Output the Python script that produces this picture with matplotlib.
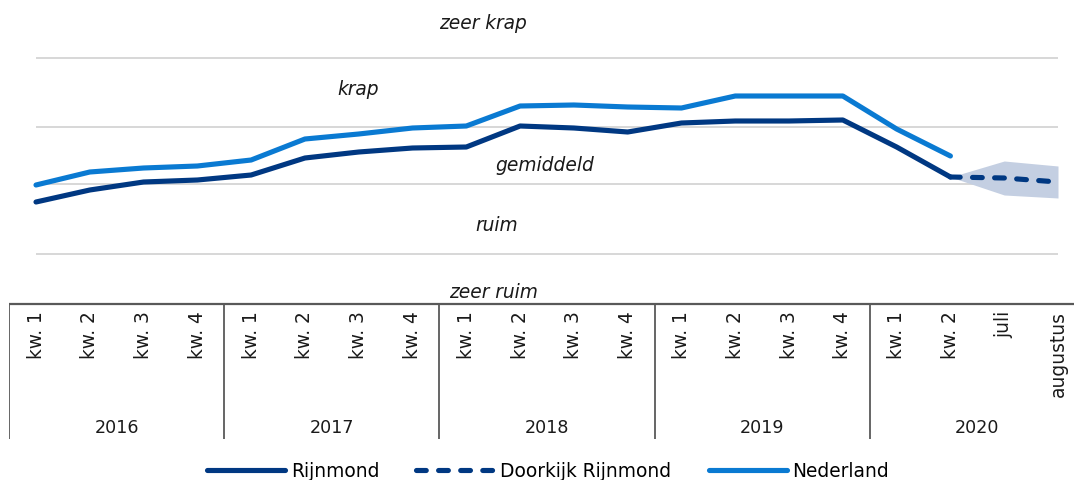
import matplotlib
matplotlib.use("Agg")
import matplotlib.pyplot as plt
import numpy as np

# ── Data ──────────────────────────────────────────────────────────────────────
periods = ["kw. 1", "kw. 2", "kw. 3", "kw. 4"] * 4 + ["kw. 1", "kw. 2", "juli", "augustus"]
years = ["2016", "2017", "2018", "2019", "2020"]
year_size = [4, 4, 4, 4, 4]

rijnmond = [1.01, 1.13, 1.21, 1.23, 1.28, 1.45, 1.51, 1.55, 1.56, 1.77,
            1.75, 1.71, 1.80, 1.82, 1.82, 1.83, 1.56, 1.26, None, None]
doorkijk = [None] * 17 + [1.26, 1.25, 1.21]
band_hi = [None] * 17 + [1.26, 1.42, 1.37]
band_lo = [None] * 17 + [1.26, 1.08, 1.05]
nederland = [1.18, 1.31, 1.35, 1.37, 1.43, 1.64, 1.69, 1.75, 1.77, 1.97,
             1.98, 1.96, 1.95, 2.07, 2.07, 2.07, 1.74, 1.47, None, None]

# class boundaries (grid lines) and band labels
bounds = [0.49, 1.19, 1.76, 2.45]
band_names = ["zeer krap", "krap", "gemiddeld", "ruim", "zeer ruim"]

# ── Style ─────────────────────────────────────────────────────────────────────
C_DARK = "#003882"
C_LIGHT = "#0a7ad2"
C_BAND = "#c4cfe2"
C_GRID = "#d4d4d4"
C_AX = "#595959"
FS = 13.4      # text
FS_YR = 12.6   # year labels (digits)
plt.rcParams["font.family"] = ["DejaVu Sans"]

W, H = 1074, 481
fig = plt.figure(figsize=(W / 100, H / 100), dpi=100, facecolor="white")

n = len(periods)
x = np.arange(n)
step = 1022 / (n - 1)
left_px = 36 - step / 2
ax_w = step * n
ax = fig.add_axes([left_px / W, 1 - 304 / H, ax_w / W, 304 / H])
ax.set_xlim(-0.5, n - 0.5)
ax.set_ylim(0, 3.04)
ax.axis("off")

ax.hlines(bounds, 0, n - 1, color=C_GRID, lw=1.3, zorder=1)


def arr(v):
    return np.array([np.nan if a is None else a for a in v], dtype=float)


lo, hi = arr(band_lo), arr(band_hi)
ok = ~np.isnan(lo)
ax.fill_between(x[ok], lo[ok], hi[ok], color=C_BAND, lw=0, zorder=2)

lw = 3.7
l1, = ax.plot(x, arr(rijnmond), color=C_DARK, lw=lw, solid_capstyle="round",
              solid_joinstyle="round", zorder=4, label="Rijnmond")
l2, = ax.plot(x, arr(doorkijk), color=C_DARK, lw=lw, dashes=(1.9, 2.4),
              dash_capstyle="round", zorder=4, label="Doorkijk Rijnmond")
l3, = ax.plot(x, arr(nederland), color=C_LIGHT, lw=lw, solid_capstyle="round",
              solid_joinstyle="round", zorder=3, label="Nederland")

# band labels
label_pos = [(8.31, 2.80), (5.99, 2.14), (9.46, 1.38), (8.57, 0.78), (8.51, 0.12)]
for name, (lx, ly) in zip(band_names, label_pos):
    ax.text(lx, ly, name, fontsize=FS, style="italic", ha="center", va="center",
            color="#1a1a1a", zorder=5)

# ── Multi-level category axis ─────────────────────────────────────────────────
ax2 = fig.add_axes([left_px / W, 0, ax_w / W, (H - 304) / H])
ax2.set_xlim(-0.5, n - 0.5)
ax2.set_ylim(H, 304)
ax2.axis("off")

ax2.hlines(305, -0.5, n - 0.5, color=C_AX, lw=1.6, clip_on=False)
for i, p in enumerate(periods):
    ax2.text(i, 311, p, rotation=90, ha="center", va="top", fontsize=FS, color="#1a1a1a")

edges = np.concatenate([[0], np.cumsum(year_size)]) - 0.5
ax2.vlines(edges[:-1], 305, 440, color=C_AX, lw=1.3)
for k, yr in enumerate(years):
    ax2.text((edges[k] + edges[k + 1]) / 2, 428, yr, ha="center", va="center",
             fontsize=FS_YR, color="#1a1a1a")

# ── Legend ────────────────────────────────────────────────────────────────────
fig.legend(handles=[l1, l2, l3], loc="center", bbox_to_anchor=(548 / W, 1 - 472 / H),
           ncol=3, frameon=False, fontsize=FS, handlelength=4.2, handletextpad=0.3,
           columnspacing=2.0, borderaxespad=0)

fig.savefig("out.png", dpi=100, facecolor="white")
